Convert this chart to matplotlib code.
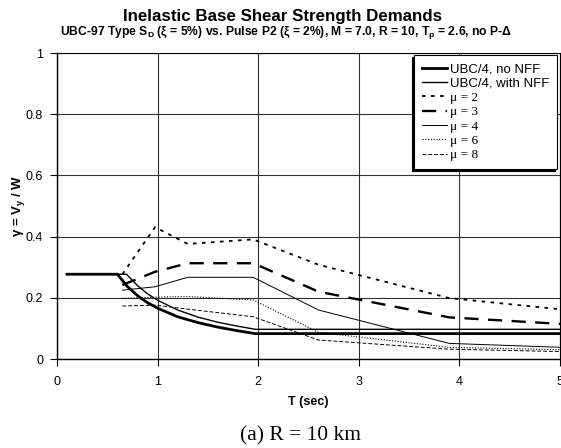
import matplotlib
matplotlib.use("Agg")
import matplotlib.pyplot as plt

plt.rcParams['font.family'] = ['Liberation Sans', 'DejaVu Sans']
plt.rcParams['mathtext.fontset'] = 'custom'
plt.rcParams['mathtext.rm'] = 'Liberation Sans:bold'
plt.rcParams['mathtext.bf'] = 'Liberation Sans:bold'
plt.rcParams['mathtext.it'] = 'Liberation Sans:bold'

# UBC/4 curves
T_ubc_no = [0.1, 0.6, 0.7, 0.8, 0.9, 1.0, 1.2, 1.4, 1.6, 1.8, 1.97, 5.0]
V_ubc_no = [0.277, 0.277, 0.237, 0.207, 0.184, 0.166, 0.138, 0.119, 0.104, 0.092, 0.083, 0.083]
T_ubc_nff = [0.1, 0.69, 0.8, 0.9, 1.0, 1.2, 1.4, 1.6, 1.8, 1.97, 5.0]
V_ubc_nff = [0.277, 0.277, 0.240, 0.213, 0.192, 0.160, 0.137, 0.120, 0.107, 0.097, 0.097]

# Pulse spectra
T_mu = [0.65, 0.975, 1.3, 1.95, 2.6, 3.9, 5.2]
mu2 = [0.277, 0.431, 0.376, 0.391, 0.308, 0.199, 0.156]
mu3 = [0.242, 0.285, 0.313, 0.313, 0.220, 0.136, 0.111]
mu4 = [0.225, 0.236, 0.267, 0.267, 0.160, 0.051, 0.036]
mu6 = [0.198, 0.202, 0.204, 0.193, 0.087, 0.038, 0.029]
mu8 = [0.173, 0.176, 0.163, 0.138, 0.062, 0.032, 0.023]

labels = ['UBC/4, no NFF', 'UBC/4, with NFF', 'μ = 2', 'μ = 3', 'μ = 4', 'μ = 6', 'μ = 8']
x_ticks = [0, 1, 2, 3, 4, 5]
y_ticks = [0, 0.2, 0.4, 0.6, 0.8, 1]

fig = plt.figure(figsize=(5.61, 4.48), dpi=100)
ax = fig.add_axes([57/561, 89/448, 503/561, 306/448])

ax.plot(T_ubc_no, V_ubc_no, color='black', lw=2.0, label=labels[0])
ax.plot(T_ubc_nff, V_ubc_nff, color='black', lw=1.0, label=labels[1])
ax.plot(T_mu, mu2, color='black', lw=1.3, dashes=(2, 3), label=labels[2])
ax.plot(T_mu, mu3, color='black', lw=1.7, dashes=(6, 4), label=labels[3])
ax.plot(T_mu, mu4, color='black', lw=0.7, label=labels[4])
ax.plot(T_mu, mu6, color='black', lw=0.8, dashes=(1, 1.5), label=labels[5])
ax.plot(T_mu, mu8, color='black', lw=0.7, dashes=(4, 2), label=labels[6])

ax.set_xlim(0, 5)
ax.set_ylim(0, 1)
ax.set_xticks(x_ticks)
ax.set_yticks(y_ticks)
ax.set_xticklabels([str(v) for v in x_ticks])
ax.set_yticklabels(['0', '0.2', '0.4', '0.6', '0.8', '1'])
ax.grid(True, color='#333333', lw=0.8)
ax.set_axisbelow(True)
for s in ['left', 'bottom']:
    ax.spines[s].set_linewidth(1.0)
ax.spines['top'].set_linewidth(0.8)
ax.spines['right'].set_linewidth(0.8)
ax.tick_params(direction='out', length=5, width=0.8, labelsize=9)
ax.tick_params(axis='x', pad=7)
ax.tick_params(axis='y', pad=5)

ax.set_xlabel('T (sec)', fontsize=9, fontweight='bold', labelpad=6)
ax.set_ylabel(r'γ = V$_y$ / W', fontsize=9.5, fontweight='bold', labelpad=-1)

leg = ax.legend(loc='upper right', bbox_to_anchor=(0.994, 0.993), fontsize=9.5,
                handlelength=1.9, handletextpad=0.2, labelspacing=0.16,
                borderpad=0.6, borderaxespad=0, fancybox=False, framealpha=1,
                edgecolor='black',
                shadow={'ox': -1.2, 'oy': -1.2, 'color': 'black', 'alpha': 1})
leg.get_frame().set_linewidth(0.8)
for t in leg.get_texts()[2:]:
    t.set_family('Liberation Serif')

fig.text(0.503, 1 - 17/448, 'Inelastic Base Shear Strength Demands', ha='center', va='center',
         fontsize=12.2, fontweight='bold')
fig.text(0.510, 1 - 33/448,
         r'UBC-97 Type S$_D$ (ξ = 5%) vs. Pulse P2 (ξ = 2%), M = 7.0, R = 10, T$_p$ = 2.6, no P-Δ',
         ha='center', va='center', fontsize=8.7, fontweight='bold')
fig.text(300/561, 1 - 436/448, '(a) R = 10 km', ha='center', va='center', fontsize=15.5,
         family='Liberation Serif')

fig.savefig('out.png', dpi=100)
